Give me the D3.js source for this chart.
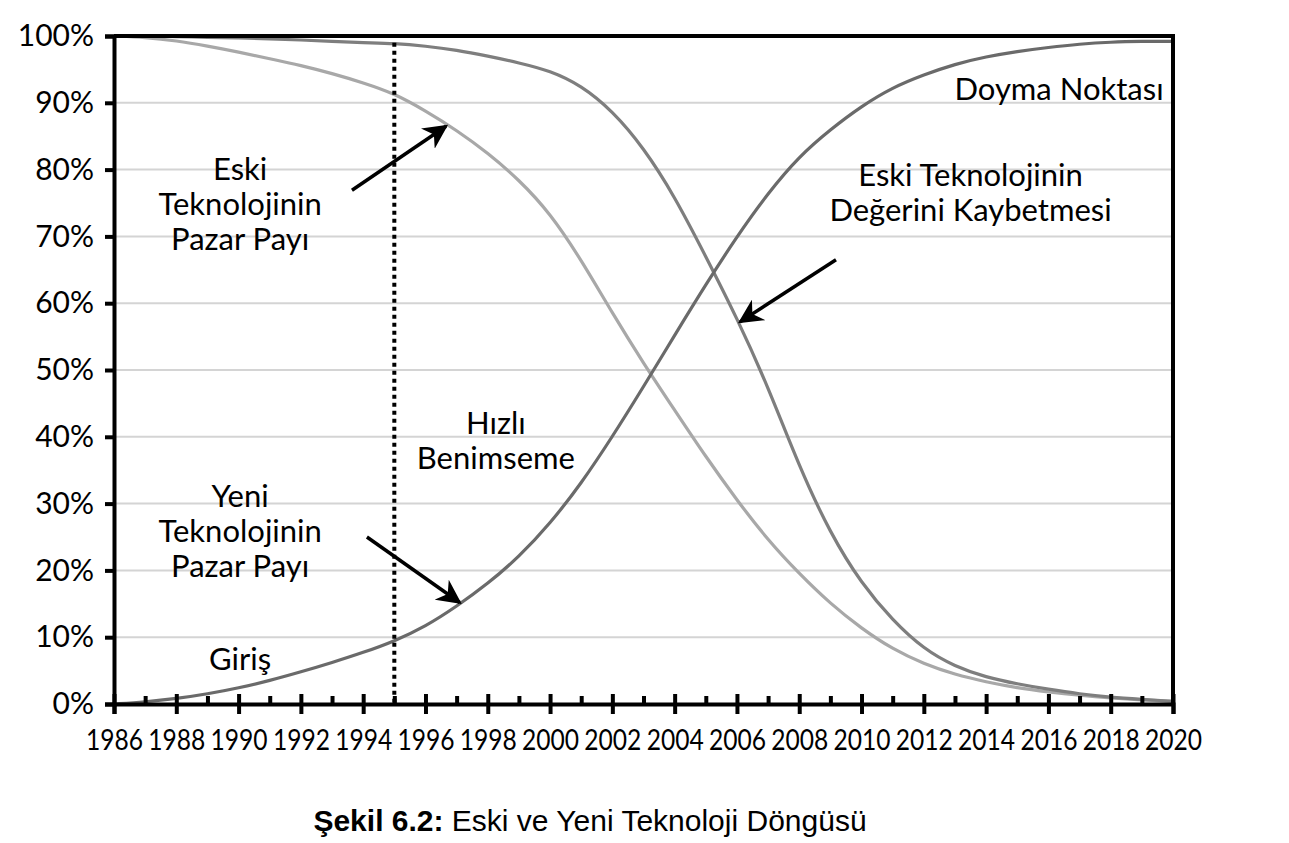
<!DOCTYPE html>
<html>
<head>
<meta charset="utf-8">
<script src="https://cdn.jsdelivr.net/npm/d3@7"></script>
<style>
  body { margin: 0; background: #fff; }
  svg { display: block; }
</style>
</head>
<body>
<div id="chart"></div>
<script>
// Chart data
const years = d3.range(1986, 2021);
const newShare = [0, 0.3, 0.8, 1.5, 2.4, 3.5, 4.8, 6.2, 7.7, 9.4, 11.6, 14.6, 18, 22, 27, 33, 40, 47.5, 55.2, 62.8,
  70, 76.5, 82, 86, 89.5, 92.3, 94.2, 95.8, 96.9, 97.7, 98.3, 98.8, 99.1, 99.2, 99.2];
const oldShare = [100, 99.8, 99.3, 98.5, 97.6, 96.6, 95.6, 94.4, 93, 91.4, 88.8, 85.9, 82.5, 78.5, 73.5, 66.5, 58.5, 51, 44, 37,
  30.5, 24.5, 19.5, 15, 11.3, 8.2, 6, 4.4, 3.3, 2.4, 1.8, 1.3, 0.9, 0.6, 0.4];
const oldValue = [100, 100, 99.9, 99.8, 99.7, 99.6, 99.4, 99.2, 99, 98.9, 98.5, 97.9, 97, 96, 94.8, 92.6, 88.8, 83.3, 76, 67,
  57.8, 47.5, 35.5, 25.5, 18, 12.5, 8.2, 5.6, 4, 3, 2.2, 1.5, 1, 0.7, 0.4];
const yTicks = d3.range(0, 101, 10);
const markerYear = 1995;

// Annotations in data units: [year, value]
const labels = [
  { lines: ["Eski", "Teknolojinin", "Pazar Payı"], x: 1990.05, y: 78.5, anchor: "middle" },
  { lines: ["Yeni", "Teknolojinin", "Pazar Payı"], x: 1990.05, y: 29.5, anchor: "middle" },
  { lines: ["Giriş"], x: 1990.05, y: 5.1, anchor: "middle" },
  { lines: ["Hızlı", "Benimseme"], x: 1998.26, y: 40.4, anchor: "middle" },
  { lines: ["Eski Teknolojinin", "Değerini Kaybetmesi"], x: 2013.5, y: 77.5, anchor: "middle" },
  { lines: ["Doyma Noktası"], x: 2019.7, y: 90.4, anchor: "end" }
];
const arrows = [
  { from: [1993.64, 76.9], to: [1996.66, 86.5] },
  { from: [1994.12, 25.0], to: [1997.1, 15.2] },
  { from: [2009.18, 66.5], to: [2006.1, 57.2] }
];

const width = 1289, height = 843;
const margin = { top: 36, right: 116, bottom: 139, left: 114 };

const svg = d3.select("#chart")
  .append("svg")
  .attr("width", width)
  .attr("height", height);

const x = d3.scaleLinear().domain([1986, 2020]).range([margin.left, width - margin.right]);
const y = d3.scaleLinear().domain([0, 100]).range([height - margin.bottom, margin.top]);

const font = "Lato, 'Open Sans', sans-serif";

// Gridlines
svg.append("g")
  .selectAll("line")
  .data(yTicks.filter(d => d > 0 && d < 100))
  .join("line")
  .attr("x1", x(1986)).attr("x2", x(2020))
  .attr("y1", d => y(d)).attr("y2", d => y(d))
  .attr("stroke", "#d4d4d4")
  .attr("stroke-width", 2);

// Curves
const line = d3.line()
  .x((d, i) => x(years[i]))
  .y(d => y(d))
  .curve(d3.curveBasis);

const series = [
  { values: oldShare, color: "#a8a8a8" },
  { values: oldValue, color: "#7e7e7e" },
  { values: newShare, color: "#6a6a6a" }
];

svg.append("g")
  .selectAll("path")
  .data(series)
  .join("path")
  .attr("d", d => line(d.values))
  .attr("fill", "none")
  .attr("stroke", d => d.color)
  .attr("stroke-width", 3.2);

// Dotted marker line
svg.append("line")
  .attr("x1", x(markerYear)).attr("x2", x(markerYear))
  .attr("y1", y(99)).attr("y2", y(0))
  .attr("stroke", "#000")
  .attr("stroke-width", 4)
  .attr("stroke-dasharray", "4,4");

// Frame (top and right)
svg.append("path")
  .attr("d", `M${x(1986)},${y(100)}H${x(2020)}V${y(0)}`)
  .attr("fill", "none")
  .attr("stroke", "#000")
  .attr("stroke-width", 4);

// Y axis
const yAxis = svg.append("g")
  .attr("transform", `translate(${x(1986)},0)`)
  .call(d3.axisLeft(y).tickValues(yTicks).tickSize(9).tickPadding(11).tickFormat(d => d + "%"));
yAxis.select(".domain").attr("stroke-width", 4);
yAxis.selectAll(".tick line").attr("stroke-width", 4);
yAxis.selectAll("text")
  .attr("font-family", font)
  .attr("font-size", 30)
  .attr("fill", "#000");

// X axis, minor ticks on odd years
svg.append("g")
  .attr("transform", `translate(0,${y(0)})`)
  .call(d3.axisBottom(x).tickValues(years.filter(d => d % 2 === 1)).tickSize(-8).tickFormat(""))
  .call(g => g.select(".domain").remove())
  .selectAll(".tick line").attr("stroke-width", 4);

// X axis, major ticks on even years
const xAxis = svg.append("g")
  .attr("transform", `translate(0,${y(0)})`)
  .call(d3.axisBottom(x).tickValues(years.filter(d => d % 2 === 0)).tickSize(10).tickPadding(15).tickFormat(d3.format("d")));
xAxis.select(".domain").attr("stroke-width", 4);
xAxis.selectAll(".tick line").attr("y1", -10).attr("stroke-width", 4);
xAxis.selectAll("text")
  .attr("font-family", font)
  .attr("font-size", 29)
  .attr("fill", "#000")
  .attr("textLength", 57)
  .attr("lengthAdjust", "spacingAndGlyphs");

// Arrowhead
svg.append("defs").append("marker")
  .attr("id", "head")
  .attr("viewBox", "0 0 10 10")
  .attr("refX", 9).attr("refY", 5)
  .attr("markerWidth", 7).attr("markerHeight", 7)
  .attr("markerUnits", "strokeWidth")
  .attr("orient", "auto")
  .append("path")
  .attr("d", "M0,0L10,5L0,10L3,5Z")
  .attr("fill", "#000");

svg.append("g")
  .selectAll("line")
  .data(arrows)
  .join("line")
  .attr("x1", d => x(d.from[0])).attr("y1", d => y(d.from[1]))
  .attr("x2", d => x(d.to[0])).attr("y2", d => y(d.to[1]))
  .attr("stroke", "#000")
  .attr("stroke-width", 3.5)
  .attr("marker-end", "url(#head)");

// Annotation labels
const lab = svg.append("g")
  .selectAll("text")
  .data(labels)
  .join("text")
  .attr("x", d => x(d.x))
  .attr("y", d => y(d.y))
  .attr("text-anchor", d => d.anchor)
  .attr("font-family", font)
  .attr("font-size", 31)
  .attr("fill", "#000");

lab.selectAll("tspan")
  .data(d => d.lines.map(t => ({ t, x: x(d.x) })))
  .join("tspan")
  .attr("x", d => d.x)
  .attr("dy", (d, i) => i === 0 ? 0 : 35)
  .text(d => d.t);

// Caption
const cap = svg.append("text")
  .attr("x", 590)
  .attr("y", 831)
  .attr("text-anchor", "middle")
  .attr("font-family", "'Liberation Sans', Arial, sans-serif")
  .attr("font-size", 30)
  .attr("fill", "#000");
cap.append("tspan").attr("font-weight", "bold").text("Şekil 6.2:");
cap.append("tspan").text(" Eski ve Yeni Teknoloji Döngüsü");
</script>
</body>
</html>
